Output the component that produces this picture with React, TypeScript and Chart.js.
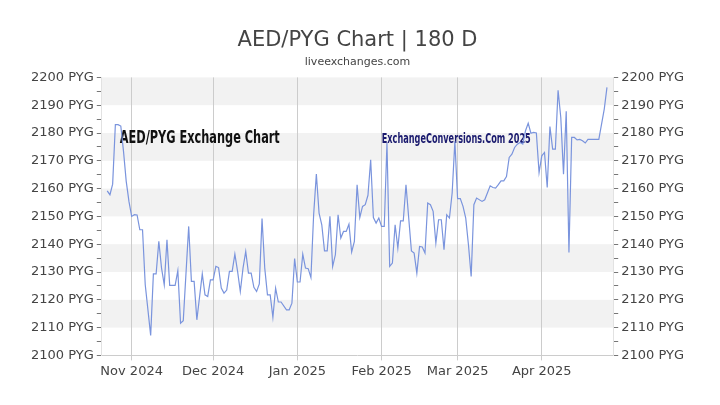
import React, { useEffect, useRef } from 'react';
import { Chart, registerables } from 'chart.js';

Chart.register(...registerables);

const START = '2024-10-21';

const dates = [
  '2024-10-23','2024-10-24','2024-10-25','2024-10-26','2024-10-27','2024-10-28','2024-10-29','2024-10-30','2024-10-31',
  '2024-11-01','2024-11-02','2024-11-03','2024-11-04','2024-11-05','2024-11-06','2024-11-08','2024-11-09','2024-11-10',
  '2024-11-11','2024-11-12','2024-11-13','2024-11-14','2024-11-15','2024-11-17','2024-11-18','2024-11-19','2024-11-20',
  '2024-11-22','2024-11-23','2024-11-24','2024-11-25','2024-11-27','2024-11-28','2024-11-29','2024-11-30',
  '2024-12-01','2024-12-02','2024-12-03','2024-12-04','2024-12-05','2024-12-06','2024-12-07','2024-12-08','2024-12-09',
  '2024-12-10','2024-12-11','2024-12-12','2024-12-13','2024-12-14','2024-12-15','2024-12-16','2024-12-17','2024-12-18',
  '2024-12-19','2024-12-20','2024-12-21','2024-12-22','2024-12-23','2024-12-24','2024-12-25','2024-12-26','2024-12-28',
  '2024-12-29','2024-12-30','2024-12-31',
  '2025-01-01','2025-01-02','2025-01-03','2025-01-04','2025-01-05','2025-01-06','2025-01-07','2025-01-08','2025-01-09',
  '2025-01-10','2025-01-11','2025-01-12','2025-01-13','2025-01-14','2025-01-15','2025-01-16','2025-01-17','2025-01-18',
  '2025-01-19','2025-01-20','2025-01-21','2025-01-22','2025-01-23','2025-01-24','2025-01-25','2025-01-26','2025-01-27',
  '2025-01-28','2025-01-29','2025-01-30','2025-01-31',
  '2025-02-01','2025-02-02','2025-02-03','2025-02-04','2025-02-05','2025-02-06','2025-02-07','2025-02-08','2025-02-09',
  '2025-02-10','2025-02-12','2025-02-13','2025-02-14','2025-02-15','2025-02-16','2025-02-17','2025-02-18','2025-02-19',
  '2025-02-20','2025-02-21','2025-02-22','2025-02-23','2025-02-24','2025-02-25','2025-02-26','2025-02-27','2025-02-28',
  '2025-03-01','2025-03-02','2025-03-03','2025-03-04','2025-03-05','2025-03-06','2025-03-07','2025-03-08','2025-03-10',
  '2025-03-11','2025-03-13','2025-03-14','2025-03-15','2025-03-16','2025-03-17','2025-03-18','2025-03-19','2025-03-20',
  '2025-03-21','2025-03-22','2025-03-23','2025-03-24','2025-03-25','2025-03-26','2025-03-27','2025-03-28','2025-03-29',
  '2025-03-30','2025-03-31',
  '2025-04-01','2025-04-02','2025-04-03','2025-04-04','2025-04-05','2025-04-06','2025-04-07','2025-04-08','2025-04-09',
  '2025-04-10','2025-04-11','2025-04-12','2025-04-13','2025-04-14','2025-04-15','2025-04-16','2025-04-17','2025-04-18',
  '2025-04-22','2025-04-24','2025-04-25',
];

const rates = [
  2159.2, 2157.8, 2161.6, 2183.0, 2183.0, 2182.5, 2173.4, 2162.6, 2155.4,
  2150.0, 2150.6, 2150.5, 2145.2, 2145.2, 2125.4, 2107.2, 2129.3, 2129.3,
  2141.0, 2131.4, 2125.4, 2141.6, 2125.2, 2125.2, 2130.5, 2111.6, 2112.5,
  2146.4, 2126.6, 2126.6, 2112.8, 2129.3, 2121.8, 2121.2, 2127.2,
  2127.2, 2132.0, 2131.6, 2124.2, 2122.4, 2123.5, 2130.2, 2130.2, 2136.4,
  2130.2, 2123.0, 2131.4, 2137.4, 2129.6, 2129.6, 2124.5, 2123.0, 2125.7,
  2149.2, 2131.4, 2121.8, 2121.8, 2113.7, 2124.2, 2119.2, 2119.2, 2116.4,
  2116.4, 2118.8, 2134.8,
  2126.4, 2126.4, 2136.4, 2131.4, 2131.2, 2128.0, 2150.6, 2165.2, 2151.2,
  2147.0, 2137.6, 2137.6, 2150.0, 2132.0, 2136.2, 2150.6, 2142.2, 2144.6,
  2144.6, 2147.2, 2137.2, 2141.0, 2161.4, 2149.6, 2153.6, 2154.2, 2157.6,
  2170.4, 2149.6, 2147.6, 2149.4,
  2146.4, 2146.4, 2176.4, 2132.0, 2133.2, 2147.0, 2138.6, 2148.4, 2148.4,
  2161.4, 2137.6, 2136.8, 2129.6, 2139.2, 2139.0, 2136.8, 2154.8, 2154.2,
  2151.8, 2140.4, 2148.8, 2148.8, 2138.0, 2150.6, 2149.4, 2158.4, 2177.0,
  2156.4, 2156.4, 2153.6, 2149.4, 2139.8, 2128.4, 2154.2, 2156.6, 2155.4,
  2156.0, 2161.0, 2160.4, 2160.2, 2161.4, 2162.8, 2162.8, 2164.3, 2171.2,
  2172.4, 2174.8, 2176.0, 2176.6, 2176.0, 2180.8, 2183.5, 2179.9, 2180.2,
  2180.0, 2165.8,
  2171.8, 2173.0, 2160.4, 2182.3, 2174.2, 2174.2, 2195.4, 2185.6, 2165.2,
  2187.8, 2137.0, 2178.4, 2178.4, 2177.5, 2177.7, 2177.2, 2176.4, 2177.7,
  2177.7, 2188.6, 2196.4,
];

const monthStarts = ['2024-11-01', '2024-12-01', '2025-01-01', '2025-02-01', '2025-03-01', '2025-04-01'];
const monthLabels = ['Nov 2024', 'Dec 2024', 'Jan 2025', 'Feb 2025', 'Mar 2025', 'Apr 2025'];

const Y_MIN = 2100;
const Y_MAX = 2200;
const Y_LABEL_STEP = 10;
const Y_TICK_STEP = 5;
const UNIT = 'PYG';
const X_END_DAYS = 188.3;

const TITLE = 'AED/PYG Chart | 180 D';
const SUBTITLE = 'liveexchanges.com';
const WATERMARK_LEFT = 'AED/PYG Exchange Chart';
const WATERMARK_RIGHT = 'ExchangeConversions.Com 2025';

const dayOf = (d: string) => Math.round((Date.parse(d) - Date.parse(START)) / 86400000);

const FONT = "'DejaVu Sans', sans-serif";

const bandsPlugin = {
  id: 'bands',
  beforeDraw(chart: any) {
    const { ctx, chartArea: a, scales } = chart;
    const y = scales.y;
    ctx.save();
    ctx.fillStyle = '#f2f2f2';
    for (let v = Y_MIN; v < Y_MAX; v += Y_LABEL_STEP) {
      if (Math.round((v - Y_MIN) / Y_LABEL_STEP) % 2 === 1) {
        const top = y.getPixelForValue(v + Y_LABEL_STEP);
        const bot = y.getPixelForValue(v);
        ctx.fillRect(a.left, top, a.right - a.left, bot - top);
      }
    }
    ctx.restore();
  },
};

function drawFitted(ctx: CanvasRenderingContext2D, text: string, x: number, y: number, width: number, font: string, color: string) {
  ctx.save();
  ctx.font = font;
  ctx.fillStyle = color;
  ctx.textBaseline = 'alphabetic';
  ctx.textAlign = 'left';
  const w = ctx.measureText(text).width;
  ctx.translate(x, y);
  ctx.scale(width / w, 1);
  ctx.fillText(text, 0, 0);
  ctx.restore();
}

const watermarkPlugin = {
  id: 'watermark',
  beforeDatasetsDraw(chart: any) {
    const { ctx, chartArea: a } = chart;
    drawFitted(ctx, WATERMARK_LEFT, a.left + 18, a.top + 66, 160, "bold 18px 'DejaVu Sans Condensed', 'DejaVu Sans'", '#111');
    drawFitted(ctx, WATERMARK_RIGHT, a.left + 280, a.top + 65.5, 149, "bold 14px 'DejaVu Sans Condensed', 'DejaVu Sans'", '#1a1a6e');
  },
};

export default function App() {
  const ref = useRef<HTMLCanvasElement | null>(null);

  useEffect(() => {
    if (!ref.current) return;
    const points = dates.map((d, i) => ({ x: dayOf(d), y: rates[i] }));
    const yAxis = (position: 'left' | 'right') => ({
      type: 'linear' as const,
      position,
      min: Y_MIN,
      max: Y_MAX,
      afterBuildTicks: (axis: any) => {
        const t = [];
        for (let v = Y_MIN; v <= Y_MAX; v += Y_TICK_STEP) t.push({ value: v });
        axis.ticks = t;
      },
      ticks: {
        autoSkip: false,
        padding: 3,
        color: '#444',
        font: { family: FONT, size: 13 },
        callback: (v: any) => (Number(v) % Y_LABEL_STEP === 0 ? `${v} ${UNIT}` : ''),
      },
      grid: { drawOnChartArea: false, drawTicks: true, tickLength: 5, color: '#777' },
      border: { display: true, color: '#e2e2e2' },
    });

    const chart = new Chart(ref.current, {
      type: 'line',
      data: {
        datasets: [
          {
            data: points,
            borderColor: '#7a94dd',
            borderWidth: 1.2,
            pointRadius: 0,
            tension: 0,
            fill: false,
            yAxisID: 'y',
          },
        ],
      },
      options: {
        animation: false,
        responsive: true,
        maintainAspectRatio: false,
        parsing: false as any,
        layout: { padding: { left: 28, right: 33, top: 0, bottom: 23 } },
        plugins: {
          legend: { display: false },
          tooltip: { enabled: false },
          title: {
            display: true,
            text: TITLE,
            color: '#444',
            font: { family: FONT, size: 21, weight: 'normal' },
            padding: { top: 28, bottom: 2 },
          },
          subtitle: {
            display: true,
            text: SUBTITLE,
            color: '#444',
            font: { family: FONT, size: 11, weight: 'normal' },
            padding: { top: 0, bottom: 9 },
          },
        },
        scales: {
          x: {
            type: 'linear',
            min: 0,
            max: X_END_DAYS,
            afterBuildTicks: (axis: any) => {
              axis.ticks = monthStarts.map((d) => ({ value: dayOf(d) }));
            },
            ticks: {
              autoSkip: false,
              maxRotation: 0,
              padding: 3,
              color: '#444',
              font: { family: FONT, size: 13 },
              callback: (v: any) => {
                const i = monthStarts.findIndex((d) => dayOf(d) === v);
                return i >= 0 ? monthLabels[i] : '';
              },
            },
            grid: { color: '#cccccc', drawTicks: true, tickLength: 5 },
            border: { display: true, color: '#cccccc' },
          },
          y: yAxis('left'),
          y1: yAxis('right'),
        },
      },
      plugins: [bandsPlugin, watermarkPlugin],
    });
    return () => chart.destroy();
  }, []);

  return (
    <div style={{ position: 'fixed', left: 0, top: 0, width: 720, height: 405, background: '#fff' }}>
      <canvas ref={ref} />
    </div>
  );
}
